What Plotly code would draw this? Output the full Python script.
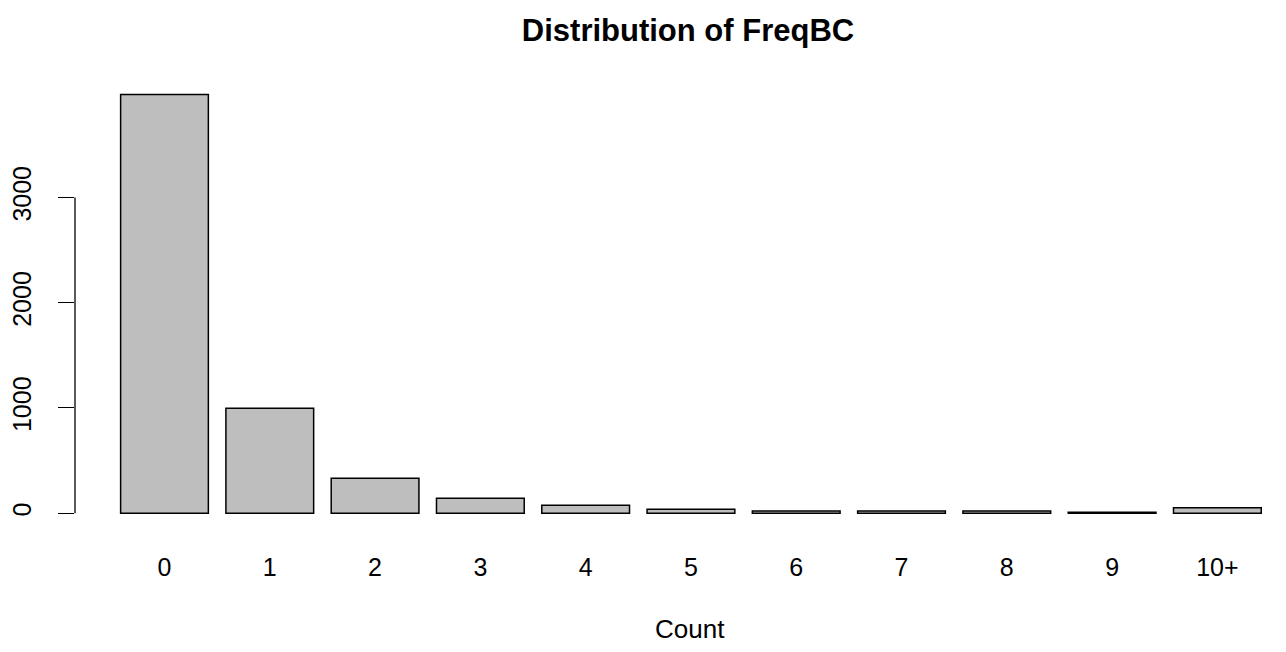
import plotly.graph_objects as go

categories = ["0", "1", "2", "3", "4", "5", "6", "7", "8", "9", "10+"]
counts = [3979, 997, 332, 142, 76, 37, 22, 21, 22, 10, 53]
y_ticks = [0, 1000, 2000, 3000]

# R barplot layout: width 1, space 0.2
centers = [0.7 + 1.2 * i for i in range(len(categories))]

FONT = "Liberation Sans, Arial, Helvetica, sans-serif"

fig = go.Figure()
fig.add_trace(go.Bar(
    x=centers, y=counts, width=1.0,
    marker=dict(color="#BEBEBE", line=dict(color="black", width=1.5)),
    hoverinfo="skip",
))

# page body has an 8px margin; compensate
OFF = 8
left = 70 - OFF
top = 77 - OFF
plot_h = 453
plot_w = 1286 - left
xmin = -0.32
px_per_unit = 88.1
xmax = xmin + plot_w / px_per_unit
ymax = 3986
yr = [-0.04 * ymax, 1.04 * ymax]

fig.update_layout(
    width=1286, height=652,
    margin=dict(l=left, r=0, t=top, b=652 - top - plot_h, pad=0),
    paper_bgcolor="white", plot_bgcolor="white",
    showlegend=False,
    font=dict(family=FONT, size=25, color="black"),
    title=dict(text="<b>Distribution of FreqBC</b>", x=(688 - OFF) / 1286, xref="container",
               xanchor="center", y=1 - (30 - OFF) / 652, yref="container", yanchor="middle",
               font=dict(size=31, family=FONT, color="black")),
    xaxis=dict(range=[xmin, xmax], tickvals=centers, ticktext=categories,
               showgrid=False, zeroline=False, showline=False, ticks="",
               ticklabelstandoff=20, tickfont=dict(size=25)),
    yaxis=dict(range=yr, tickvals=y_ticks, ticktext=[str(v) for v in y_ticks],
               showgrid=False, zeroline=False, showline=False,
               ticks="outside", ticklen=16, tickwidth=1.3, tickcolor="black",
               tickangle=-90, ticklabelstandoff=17, tickfont=dict(size=25)),
    shapes=[dict(type="line", xref="paper", yref="y", x0=0, x1=0,
                 y0=y_ticks[0], y1=y_ticks[-1], line=dict(color="black", width=1.3))],
    annotations=[dict(text="Count", xref="paper", yref="paper",
                      x=(688 - OFF - left) / plot_w, y=-(629 - OFF - top - plot_h) / plot_h,
                      xanchor="center", yanchor="middle", showarrow=False,
                      font=dict(size=26, family=FONT, color="black"))],
)

fig.write_html("out.html")
